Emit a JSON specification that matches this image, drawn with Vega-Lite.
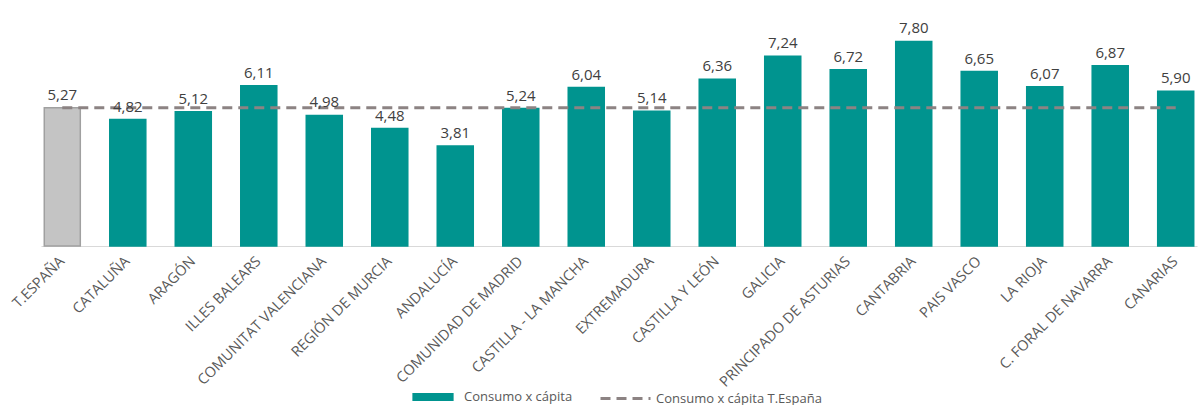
{
  "$schema": "https://vega.github.io/schema/vega-lite/v6.json",
  "width": 1156,
  "height": 236,
  "autosize": {"type": "none"},
  "padding": {"left": 41, "top": 10, "right": 1, "bottom": 159},
  "config": {
    "view": {"stroke": null},
    "font": "Open Sans",
    "locale": {"number": {"decimal": ",", "thousands": ".", "grouping": [3], "currency": ["", " €"]}}
  },
  "data": {
    "values": [
      {"region": "T.ESPAÑA", "valor": 5.27, "tipo": "T.España", "media": 5.27, "linea": "Consumo x cápita T.España"},
      {"region": "CATALUÑA", "valor": 4.82, "tipo": "Consumo x cápita", "media": 5.27, "linea": "Consumo x cápita T.España"},
      {"region": "ARAGÓN", "valor": 5.12, "tipo": "Consumo x cápita", "media": 5.27, "linea": "Consumo x cápita T.España"},
      {"region": "ILLES BALEARS", "valor": 6.11, "tipo": "Consumo x cápita", "media": 5.27, "linea": "Consumo x cápita T.España"},
      {"region": "COMUNITAT VALENCIANA", "valor": 4.98, "tipo": "Consumo x cápita", "media": 5.27, "linea": "Consumo x cápita T.España"},
      {"region": "REGIÓN DE MURCIA", "valor": 4.48, "tipo": "Consumo x cápita", "media": 5.27, "linea": "Consumo x cápita T.España"},
      {"region": "ANDALUCÍA", "valor": 3.81, "tipo": "Consumo x cápita", "media": 5.27, "linea": "Consumo x cápita T.España"},
      {"region": "COMUNIDAD DE MADRID", "valor": 5.24, "tipo": "Consumo x cápita", "media": 5.27, "linea": "Consumo x cápita T.España"},
      {"region": "CASTILLA - LA MANCHA", "valor": 6.04, "tipo": "Consumo x cápita", "media": 5.27, "linea": "Consumo x cápita T.España"},
      {"region": "EXTREMADURA", "valor": 5.14, "tipo": "Consumo x cápita", "media": 5.27, "linea": "Consumo x cápita T.España"},
      {"region": "CASTILLA Y LEÓN", "valor": 6.36, "tipo": "Consumo x cápita", "media": 5.27, "linea": "Consumo x cápita T.España"},
      {"region": "GALICIA", "valor": 7.24, "tipo": "Consumo x cápita", "media": 5.27, "linea": "Consumo x cápita T.España"},
      {"region": "PRINCIPADO DE ASTURIAS", "valor": 6.72, "tipo": "Consumo x cápita", "media": 5.27, "linea": "Consumo x cápita T.España"},
      {"region": "CANTABRIA", "valor": 7.80, "tipo": "Consumo x cápita", "media": 5.27, "linea": "Consumo x cápita T.España"},
      {"region": "PAIS VASCO", "valor": 6.65, "tipo": "Consumo x cápita", "media": 5.27, "linea": "Consumo x cápita T.España"},
      {"region": "LA RIOJA", "valor": 6.07, "tipo": "Consumo x cápita", "media": 5.27, "linea": "Consumo x cápita T.España"},
      {"region": "C. FORAL DE NAVARRA", "valor": 6.87, "tipo": "Consumo x cápita", "media": 5.27, "linea": "Consumo x cápita T.España"},
      {"region": "CANARIAS", "valor": 5.90, "tipo": "Consumo x cápita", "media": 5.27, "linea": "Consumo x cápita T.España"}
    ]
  },
  "encoding": {
    "x": {
      "field": "region",
      "type": "nominal",
      "sort": null,
      "scale": {"paddingInner": 0.45, "paddingOuter": 0.05},
      "axis": {
        "title": null,
        "labelAngle": -45,
        "labelAlign": "right",
        "labelBaseline": "middle",
        "labelPadding": 13,
        "labelFontSize": 14.5,
        "labelColor": "#595959",
        "labelFont": "Open Sans",
        "ticks": false,
        "domainColor": "#d9d9d9",
        "labelOverlap": false,
        "labelLimit": 300
      }
    }
  },
  "layer": [
    {
      "mark": {"type": "bar", "strokeWidth": 1.5},
      "encoding": {
        "y": {"field": "valor", "type": "quantitative", "scale": {"domain": [0, 9]}, "axis": null},
        "color": {
          "field": "tipo",
          "type": "nominal",
          "scale": {"domain": ["Consumo x cápita", "T.España"], "range": ["#00948f", "#c4c4c4"]},
          "legend": {
            "values": ["Consumo x cápita"],
            "title": null,
            "orient": "none",
            "legendX": 371,
            "legendY": 366,
            "symbolType": "M-1,-0.2H1V0.2H-1Z",
            "symbolSize": 1700,
            "symbolStrokeWidth": 0,
            "labelOffset": 10,
            "labelFontSize": 13,
            "labelLimit": 400,
            "labelColor": "#595959",
            "labelFont": "Open Sans"
          }
        },
        "stroke": {
          "field": "tipo",
          "type": "nominal",
          "scale": {"domain": ["Consumo x cápita", "T.España"], "range": ["#00948f", "#a0a0a0"]},
          "legend": null
        }
      }
    },
    {
      "mark": {"type": "line", "color": "#8c8383", "strokeWidth": 3},
      "encoding": {
        "y": {"field": "media", "type": "quantitative"},
        "strokeDash": {
          "field": "linea",
          "type": "nominal",
          "scale": {"range": [[10, 6]]},
          "legend": {
            "title": null,
            "orient": "none",
            "legendX": 558,
            "legendY": 362,
            "symbolType": "stroke",
            "symbolSize": 2500,
            "symbolStrokeColor": "#8c8383",
            "symbolStrokeWidth": 3,
            "labelFontSize": 13,
            "labelLimit": 400,
            "labelColor": "#595959",
            "labelFont": "Open Sans"
          }
        }
      }
    },
    {
      "mark": {"type": "text", "dy": -13, "fontSize": 15, "color": "#404040", "font": "Open Sans"},
      "encoding": {
        "y": {"field": "valor", "type": "quantitative"},
        "text": {"field": "valor", "type": "quantitative", "format": ".2f"}
      }
    }
  ]
}
